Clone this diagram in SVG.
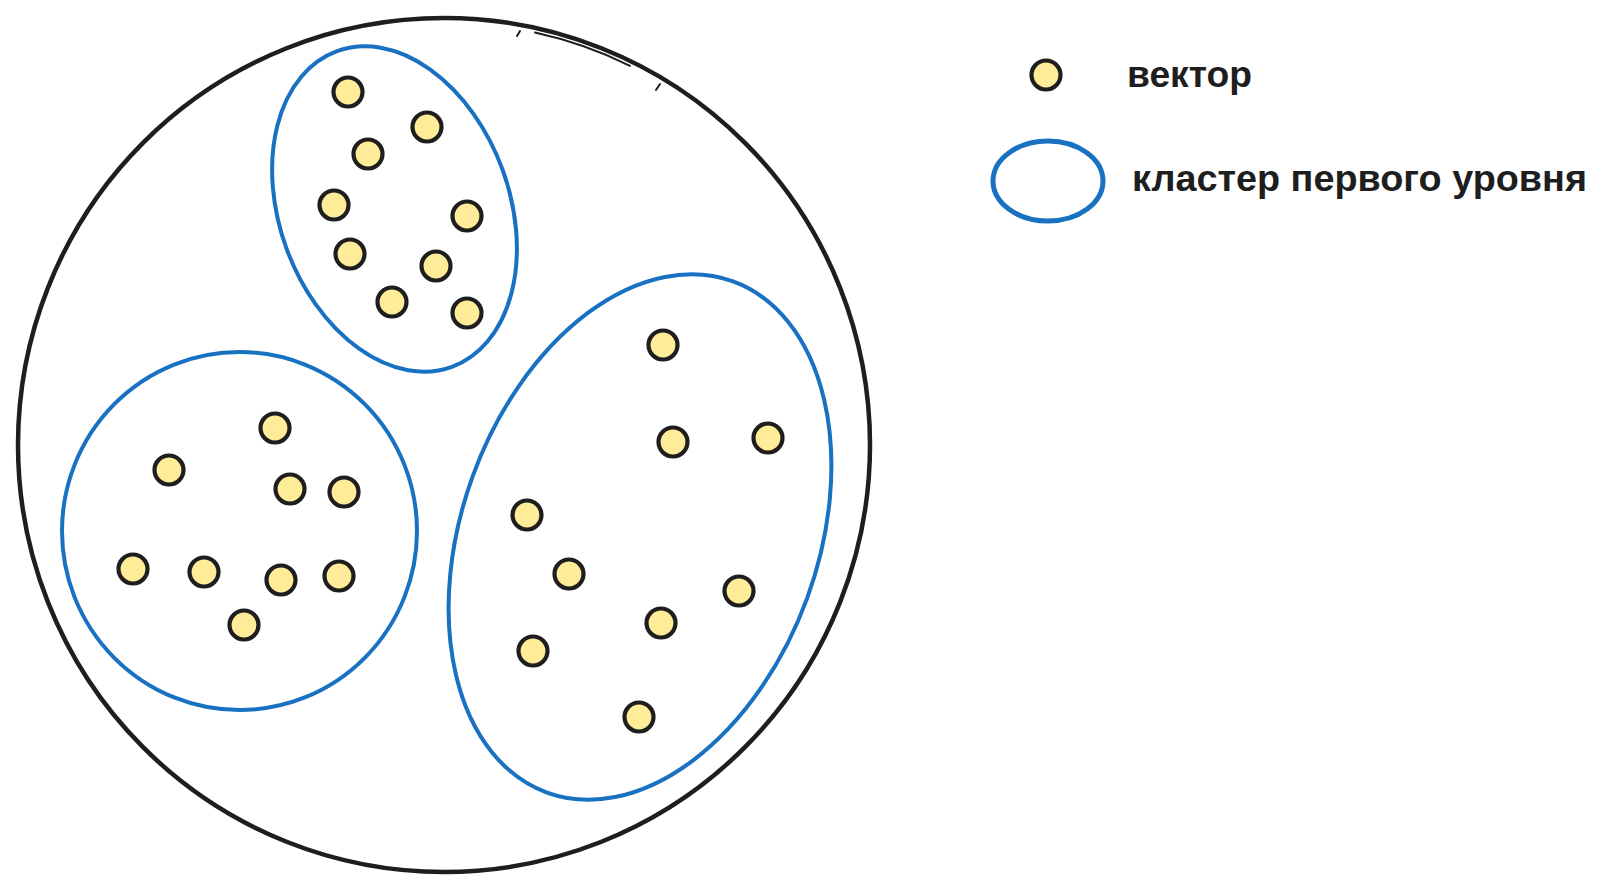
<svg xmlns="http://www.w3.org/2000/svg" width="1610" height="889" viewBox="0 0 1610 889">
  <style>
    .outer { fill: none; stroke: #1e1e1e; stroke-width: 4.5; stroke-linecap: round; }
    .thin { fill: none; stroke: #1e1e1e; stroke-width: 2; stroke-linecap: round; }
    .cluster { fill: none; stroke: #1971c2; stroke-width: 4; }
    .dot { fill: #ffec99; stroke: #1e1e1e; stroke-width: 4.2; }
    .label { font-family: "Liberation Sans", Arial, sans-serif; font-size: 37px; font-weight: bold; fill: #1e1e1e; }
  </style>
  <rect width="1610" height="889" fill="#ffffff"/>

  <g id="outer-space">
    <ellipse class="outer" cx="444" cy="445" rx="426" ry="427"/>
    <path class="thin" d="M535 32.6 A420.5 421.5 0 0 1 630 65.8"/>
    <path class="thin" d="M520 31 L517 36"/>
    <path class="thin" d="M660 84 L656 90"/>
  </g>

  <g id="cluster-top">
    <ellipse class="cluster" cx="394.5" cy="209" rx="115" ry="168" transform="rotate(-20 394.5 209)"/>
    <circle class="dot" cx="348" cy="92" r="14.5"/>
    <circle class="dot" cx="427" cy="127" r="14.5"/>
    <circle class="dot" cx="368" cy="154" r="14.5"/>
    <circle class="dot" cx="334" cy="205" r="14.5"/>
    <circle class="dot" cx="467" cy="216" r="14.5"/>
    <circle class="dot" cx="350" cy="254" r="14.5"/>
    <circle class="dot" cx="436" cy="266" r="14.5"/>
    <circle class="dot" cx="392" cy="302" r="14.5"/>
    <circle class="dot" cx="467" cy="313" r="14.5"/>
  </g>

  <g id="cluster-left">
    <ellipse class="cluster" cx="239.5" cy="531" rx="177.5" ry="179"/>
    <circle class="dot" cx="275" cy="428" r="14.5"/>
    <circle class="dot" cx="169" cy="470" r="14.5"/>
    <circle class="dot" cx="290" cy="489" r="14.5"/>
    <circle class="dot" cx="344" cy="492" r="14.5"/>
    <circle class="dot" cx="133" cy="569" r="14.5"/>
    <circle class="dot" cx="204" cy="572" r="14.5"/>
    <circle class="dot" cx="281" cy="580" r="14.5"/>
    <circle class="dot" cx="339" cy="576" r="14.5"/>
    <circle class="dot" cx="244" cy="625" r="14.5"/>
  </g>

  <g id="cluster-right">
    <ellipse class="cluster" cx="640" cy="537" rx="178" ry="272" transform="rotate(20 640 537)"/>
    <circle class="dot" cx="663" cy="345" r="14.5"/>
    <circle class="dot" cx="673" cy="442" r="14.5"/>
    <circle class="dot" cx="768" cy="438" r="14.5"/>
    <circle class="dot" cx="527" cy="515" r="14.5"/>
    <circle class="dot" cx="569" cy="574" r="14.5"/>
    <circle class="dot" cx="739" cy="591" r="14.5"/>
    <circle class="dot" cx="661" cy="623" r="14.5"/>
    <circle class="dot" cx="533" cy="651" r="14.5"/>
    <circle class="dot" cx="639" cy="717" r="14.5"/>
  </g>

  <g id="connectors"/>

  <g id="legend-vector">
    <circle class="dot" cx="1046" cy="75" r="14.5"/>
    <text class="label" x="1127" y="87" textLength="125" lengthAdjust="spacingAndGlyphs">вектор</text>
  </g>

  <g id="legend-cluster">
    <ellipse class="cluster" cx="1048" cy="181" rx="55" ry="40" style="stroke-width:5"/>
    <text class="label" x="1132" y="191" textLength="455" lengthAdjust="spacingAndGlyphs">кластер первого уровня</text>
  </g>
</svg>
